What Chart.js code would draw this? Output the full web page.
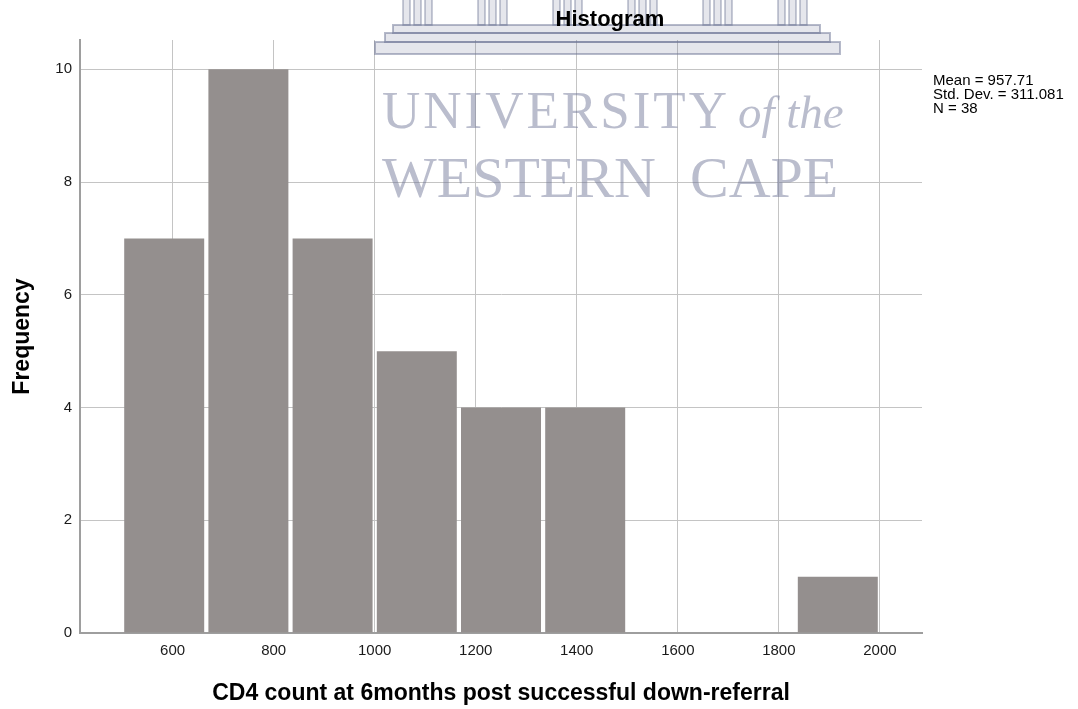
<!DOCTYPE html>
<html>
<head>
<meta charset="utf-8">
<title>Histogram</title>
<script src="https://cdn.jsdelivr.net/npm/chart.js@4.4.0/dist/chart.umd.min.js"></script>
<style>
  html, body { margin: 0; padding: 0; background: #fff; }
  #wrap { width: 1078px; height: 709px; }
</style>
</head>
<body>
<div id="wrap"><canvas id="histChart" width="1078" height="709"></canvas></div>
<script>
// CD4 count at 6 months: bin edges and the number of patients per bin
const binEdges = [500, 666.67, 833.33, 1000, 1166.67, 1333.33, 1500, 1666.67, 1833.33, 2000];
const frequencies = [7, 10, 7, 5, 4, 4, 0, 0, 1];
const xTicks = [600, 800, 1000, 1200, 1400, 1600, 1800, 2000];
const yTicks = [0, 2, 4, 6, 8, 10];
const statsLines = ["Mean = 957.71", "Std. Dev. = 311.081", "N = 38"];

const FONT = "Arial, 'Liberation Sans', sans-serif";
const SERIF = "'Liberation Serif', 'Times New Roman', serif";

// one bar per bin, centred between its edges
const bars = frequencies.map((f, i) => ({
  x: (binEdges[i] + binEdges[i + 1]) / 2,
  y: f,
}));

// faint university crest behind the top of the plot
function drawCrest(ctx) {
  const ink = "rgba(110, 118, 150, 0.48)";
  ctx.fillStyle = "rgba(110, 118, 150, 0.18)";
  ctx.strokeStyle = "rgba(110, 118, 150, 0.5)";
  ctx.lineWidth = 1.5;
  [403, 478, 553, 628, 703, 778].forEach((x0) => {
    [0, 11, 22].forEach((dx) => {
      ctx.fillRect(x0 + dx, 0, 7, 25);
      ctx.strokeRect(x0 + dx, -2, 7, 27);
    });
  });
  ctx.lineWidth = 2;
  [[393, 25, 427, 8], [385, 33, 445, 9], [375, 42, 465, 12]].forEach((r) => {
    ctx.fillRect(r[0], r[1], r[2], r[3]);
    ctx.strokeRect(r[0], r[1], r[2], r[3]);
  });

  ctx.fillStyle = ink;
  ctx.textAlign = "left";
  ctx.textBaseline = "alphabetic";
  ctx.font = "53px " + SERIF;
  ctx.letterSpacing = "3px";
  ctx.fillText("UNIVERSITY", 382, 128);
  ctx.letterSpacing = "0px";
  ctx.font = "italic 47px " + SERIF;
  ctx.fillText("of the", 738, 128);
  ctx.font = "58px " + SERIF;
  ctx.fillText("WESTERN", 382, 197);
  ctx.fillText("CAPE", 690, 197);
}

const textLayer = {
  id: "textLayer",
  afterDraw(chart) {
    const ctx = chart.ctx;
    ctx.save();
    drawCrest(ctx);

    ctx.fillStyle = "#000";
    ctx.textAlign = "center";
    ctx.textBaseline = "alphabetic";
    ctx.font = "bold 22px " + FONT;
    ctx.fillText("Histogram", 610, 26);

    ctx.textAlign = "left";
    ctx.font = "15px " + FONT;
    statsLines.forEach((line, i) => {
      ctx.fillText(line, 933, 85 + i * 14);
    });
    ctx.restore();
  },
};

const ctx = document.getElementById("histChart").getContext("2d");
new Chart(ctx, {
  type: "bar",
  data: {
    datasets: [
      {
        label: "Frequency",
        data: bars,
        backgroundColor: "#948f8e",
        borderWidth: 0,
        barPercentage: 0.95,
        categoryPercentage: 1,
      },
    ],
  },
  options: {
    responsive: false,
    animation: false,
    devicePixelRatio: 1,
    layout: { padding: { top: 40, right: 156, bottom: 0, left: 0 } },
    plugins: {
      legend: { display: false },
      tooltip: { enabled: false },
    },
    scales: {
      x: {
        type: "linear",
        min: 416.67,
        max: 2083.33,
        offset: false,
        afterFit: (scale) => { scale.height = 76; },
        afterBuildTicks: (scale) => {
          scale.ticks = xTicks.map((v) => ({ value: v }));
        },
        grid: { color: "#c4c4c4", lineWidth: 1, drawTicks: false, offset: false },
        border: { color: "#9e9e9e", width: 2 },
        ticks: {
          autoSkip: false,
          maxRotation: 0,
          padding: 9,
          color: "#1a1a1a",
          font: { family: FONT, size: 15 },
          callback: (value) => String(value),
        },
        title: {
          display: true,
          text: "CD4 count at 6months post successful down-referral",
          color: "#000",
          font: { family: FONT, size: 23, weight: "bold" },
          padding: { top: 0, bottom: 2 },
        },
      },
      y: {
        min: 0,
        max: 10.52,
        afterFit: (scale) => { scale.width = 80; },
        afterBuildTicks: (scale) => {
          scale.ticks = yTicks.map((v) => ({ value: v }));
        },
        grid: { color: "#c4c4c4", lineWidth: 1, drawTicks: false },
        border: { color: "#9e9e9e", width: 2 },
        ticks: {
          padding: 8,
          color: "#1a1a1a",
          font: { family: FONT, size: 15 },
          callback: (value) => String(value),
        },
        title: {
          display: true,
          text: "Frequency",
          color: "#000",
          font: { family: FONT, size: 23, weight: "bold" },
          padding: { top: 9, bottom: 0 },
        },
      },
    },
  },
  plugins: [textLayer],
});
</script>
</body>
</html>
